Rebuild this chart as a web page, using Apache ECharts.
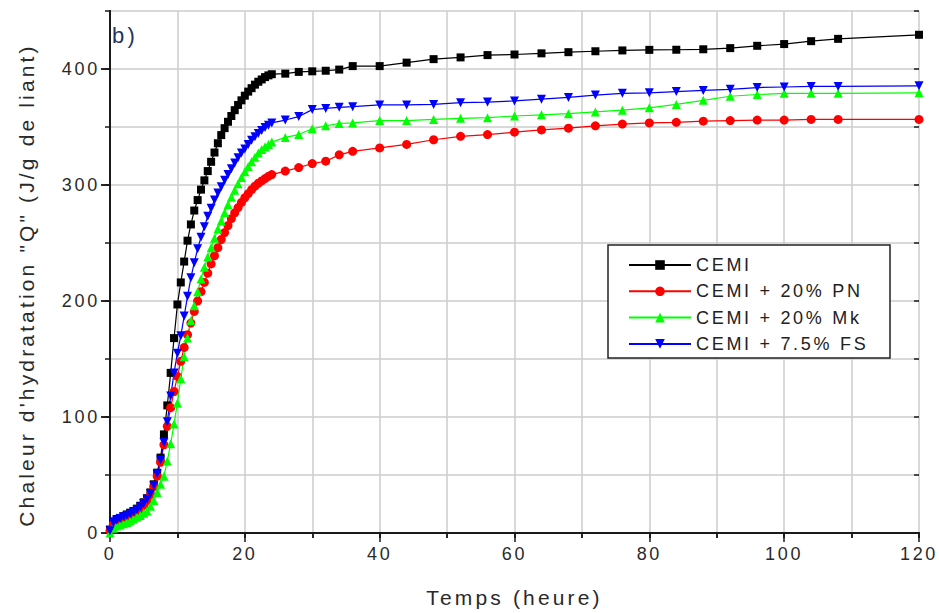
<!DOCTYPE html>
<html>
<head>
<meta charset="utf-8">
<script src="https://cdn.jsdelivr.net/npm/echarts@6/dist/echarts.min.js"></script>
<style>
  html, body { margin: 0; padding: 0; background: #ffffff; }
  #chart { width: 939px; height: 613px; }
  /* wide, spaced lettering of the plot software */
  #chart svg text { letter-spacing: 0.15em; }
</style>
</head>
<body>
<div id="chart"></div>
<script>
// Hydration time (h)
const hours = [0, 0.5, 1, 1.5, 2, 2.5, 3, 3.5, 4, 4.5, 5, 5.5, 6, 6.5, 7, 7.5, 8, 8.5, 9, 9.5,
  10, 10.5, 11, 11.5, 12, 12.5, 13, 13.5, 14, 14.5, 15, 15.5, 16, 16.5, 17, 17.5, 18, 18.5, 19, 19.5,
  20, 20.5, 21, 21.5, 22, 22.5, 23, 23.5, 24, 26, 28, 30, 32, 34, 36, 40, 44, 48, 52, 56, 60, 64,
  68, 72, 76, 80, 84, 88, 92, 96, 100, 104, 108, 120];

// Cumulative heat Q (J/g of binder)
const qCEMI = [3, 10, 12, 13, 14.5, 16, 17.5, 19, 21, 23.5, 26.5, 30, 35, 42, 52, 65, 85, 110, 138, 168,
  197, 216, 234, 252, 266, 278, 287, 296, 304, 312, 320, 328, 336, 343, 349, 354.5, 359.5, 364.5, 369, 373,
  377, 380.5, 383.5, 386.5, 389, 391, 393, 394.5, 395.5, 396, 397.5, 398, 398.5, 399.5, 402.5, 402.5, 405.5, 408.5,
  410, 412, 412.5, 413.5, 414.5, 415.3, 416, 416.5, 416.6, 417, 418, 420, 421.5, 424, 426, 429.5];

const qPN = [2, 8, 10, 11.5, 13, 14, 15.5, 17, 19, 21, 24, 28, 33, 40, 49, 61, 76, 92, 108, 122,
  135, 148, 160, 171, 181, 191, 200, 208, 216, 224, 232, 239, 246, 253, 259, 265, 271, 276, 280.5, 285,
  289, 292.5, 296, 299, 301.5, 303.5, 305.5, 307.5, 309, 312, 315, 318.5, 320.5, 326, 329, 332, 335, 339,
  342, 343.5, 345.5, 347.5, 349, 351, 352.5, 353.5, 354, 355, 355.5, 356, 356, 356.5, 356.5, 356.5];

const qMk = [0, 4, 6, 7, 8, 9, 10.5, 12, 13.5, 15, 17, 19, 23, 28, 35, 42, 49, 62, 77, 94,
  112, 133, 152, 168, 183, 196, 208, 219, 229, 238, 246, 254, 262, 269, 276, 283, 289.5, 295.5, 301, 306.5,
  311.5, 316, 320, 324, 327.5, 330.5, 333, 335, 337, 341, 343.5, 348.5, 351, 353, 353.5, 355.5, 355.5, 356.5,
  357.5, 358, 359.5, 360.5, 361.5, 363, 364.5, 366.5, 369.5, 373, 376.5, 378, 379, 379, 379, 379.5];

const qFS = [2, 9, 11, 12.5, 14, 15, 16.5, 18, 20, 22.5, 25.5, 29, 34, 41, 51, 63, 78, 96, 118, 138,
  155, 170, 187, 204, 220, 233, 245, 255, 264, 273, 280, 287, 293, 298.5, 304, 309, 314, 319, 323.5, 327.5,
  331, 335, 338.5, 341.5, 344.5, 347, 349.5, 351.5, 353.5, 356, 359, 365, 366, 367, 367.5, 369, 369, 369.5,
  371, 371.5, 372.5, 374, 375.5, 377.5, 379, 379.5, 380.5, 381.5, 382.5, 384, 384.5, 385, 385, 385.5];

const seriesNames = ['CEMI', 'CEMI + 20% PN', 'CEMI + 20% Mk', 'CEMI + 7.5% FS'];
const xLabelValues = [0, 20, 40, 60, 80, 100, 120];
const yLabelValues = [0, 100, 200, 300, 400];
const xTitle = 'Temps (heure)';
const yTitle = 'Chaleur d\'hydratation "Q" (J/g de liant)';
const panelTag = 'b)';

const FONT = "'Liberation Sans', Arial, sans-serif";
const INK = '#1a1a1a';
const TEXT = '#2a2a2a';
const GRID = '#cccccc';

const toPairs = (ys) => hours.map((h, i) => [h, ys[i]]);

const chart = echarts.init(document.getElementById('chart'), null, { renderer: 'svg' });

const lineAxis = { lineStyle: { color: INK, width: 2 } };
const tickStyle = { color: INK, width: 1.5 };

chart.setOption({
  animation: false,
  backgroundColor: '#ffffff',
  textStyle: { fontFamily: FONT },
  grid: { left: 110, right: 20, top: 11, bottom: 79 },
  graphic: [
    {
      type: 'rect', z: 3,
      shape: { x: 608, y: 245, width: 282, height: 113 },
      style: { fill: '#ffffff', stroke: '#222222', lineWidth: 1.5 }
    },
    {
      type: 'text', z: 3, left: 112, top: 24,
      style: { text: panelTag, fill: '#22335f', font: "22px 'Liberation Sans', Arial, sans-serif" }
    },
    {
      type: 'text', z: 3, x: 26, y: 285, rotation: Math.PI / 2,
      style: {
        text: yTitle, fill: TEXT, align: 'center', verticalAlign: 'middle',
        font: "21px 'Liberation Sans', Arial, sans-serif"
      }
    }
  ],
  legend: {
    orient: 'vertical',
    left: 628, top: 256,
    padding: 0,
    itemWidth: 62, itemHeight: 12, itemGap: 8.3,
    textStyle: { fontSize: 18, color: '#222222', fontFamily: FONT },
    data: seriesNames
  },
  xAxis: [
    { // bottom: labels, long ticks, name
      type: 'value', position: 'bottom', min: 0, max: 120, interval: 10,
      axisLine: lineAxis,
      axisTick: { show: true, inside: false, length: 9, lineStyle: tickStyle, customValues: xLabelValues },
      axisLabel: { customValues: xLabelValues, margin: 12, fontSize: 18, color: TEXT, fontFamily: FONT },
      splitLine: { show: false },
      name: xTitle, nameLocation: 'middle', nameGap: 54,
      nameTextStyle: { fontSize: 21, color: TEXT, fontFamily: FONT }
    },
    { // bottom: short ticks and vertical grid every 10 h
      type: 'value', position: 'bottom', min: 0, max: 120, interval: 10,
      axisLine: { show: false },
      axisTick: { show: true, inside: false, length: 5, lineStyle: tickStyle },
      axisLabel: { show: false },
      splitLine: { show: true, lineStyle: { color: GRID, width: 1.5 } }
    },
    { // top frame with inward ticks
      type: 'value', position: 'top', min: 0, max: 120, interval: 10,
      axisLine: lineAxis,
      axisTick: { show: true, inside: true, length: 5, lineStyle: tickStyle },
      axisLabel: { show: false },
      splitLine: { show: false }
    }
  ],
  yAxis: [
    { // left: labels and long ticks
      type: 'value', position: 'left', min: 0, max: 450, interval: 50,
      axisLine: lineAxis,
      axisTick: { show: true, inside: false, length: 9, lineStyle: tickStyle, customValues: yLabelValues },
      axisLabel: { customValues: yLabelValues, margin: 10, fontSize: 18, color: TEXT, fontFamily: FONT },
      splitLine: { show: false }
    },
    { // left: short ticks and horizontal grid every 50
      type: 'value', position: 'left', min: 0, max: 450, interval: 50,
      axisLine: { show: false },
      axisTick: { show: true, inside: false, length: 5, lineStyle: tickStyle },
      axisLabel: { show: false },
      splitLine: { show: true, lineStyle: { color: GRID, width: 1.5 } }
    },
    { // right frame, long inward ticks
      type: 'value', position: 'right', min: 0, max: 450, interval: 50,
      axisLine: lineAxis,
      axisTick: { show: true, inside: true, length: 9, lineStyle: tickStyle, customValues: yLabelValues },
      axisLabel: { show: false },
      splitLine: { show: false }
    },
    { // right frame, short inward ticks
      type: 'value', position: 'right', min: 0, max: 450, interval: 50,
      axisLine: { show: false },
      axisTick: { show: true, inside: true, length: 5, lineStyle: tickStyle },
      axisLabel: { show: false },
      splitLine: { show: false }
    }
  ],
  series: [
    {
      name: seriesNames[0], type: 'line', data: toPairs(qCEMI),
      symbol: 'rect', symbolSize: 8, color: '#000000',
      lineStyle: { width: 1.2, color: '#000000' }, itemStyle: { color: '#000000' }
    },
    {
      name: seriesNames[1], type: 'line', data: toPairs(qPN),
      symbol: 'circle', symbolSize: 9, color: '#ff0000',
      lineStyle: { width: 1.2, color: '#ff0000' }, itemStyle: { color: '#ff0000' }
    },
    {
      name: seriesNames[2], type: 'line', data: toPairs(qMk),
      symbol: 'triangle', symbolSize: 9, color: '#00ff00',
      lineStyle: { width: 1.2, color: '#00ff00' }, itemStyle: { color: '#00ff00' }
    },
    {
      name: seriesNames[3], type: 'line', data: toPairs(qFS),
      symbol: 'triangle', symbolRotate: 180, symbolSize: 9, color: '#0000ff',
      lineStyle: { width: 1.2, color: '#0000ff' }, itemStyle: { color: '#0000ff' }
    }
  ]
});
</script>
</body>
</html>
